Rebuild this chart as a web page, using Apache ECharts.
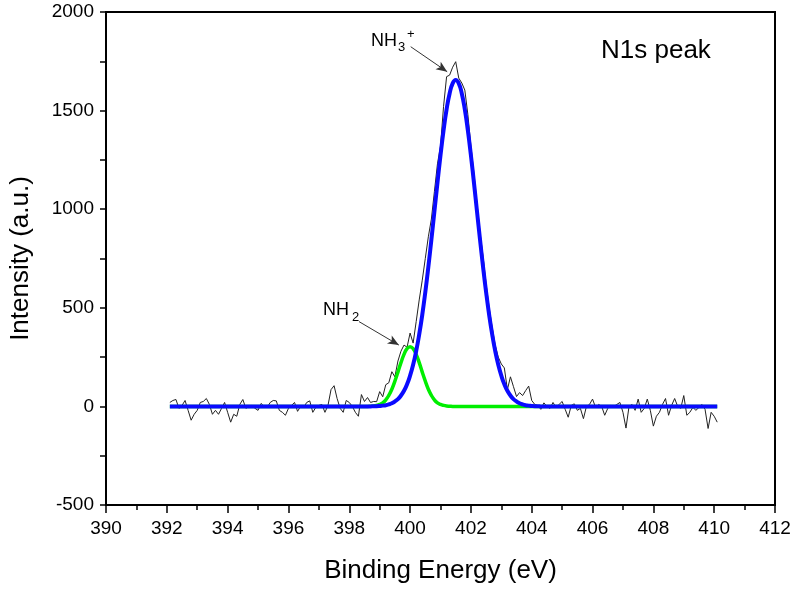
<!DOCTYPE html>
<html>
<head>
<meta charset="utf-8">
<script src="https://cdn.jsdelivr.net/npm/echarts@6/dist/echarts.min.js"></script>
<style>
html,body{margin:0;padding:0;background:#fff;}
#chart{width:797px;height:596px;}
</style>
</head>
<body>
<div id="chart"></div>
<script>
// Binding energy grid (eV)
const energy = [
392.1,392.2,392.3,392.4,392.5,392.6,392.7,392.8,392.9,393.0,
393.1,393.2,393.3,393.4,393.5,393.6,393.7,393.8,393.9,394.0,
394.1,394.2,394.3,394.4,394.5,394.6,394.7,394.8,394.9,395.0,
395.1,395.2,395.3,395.4,395.5,395.6,395.7,395.8,395.9,396.0,
396.1,396.2,396.3,396.4,396.5,396.6,396.7,396.8,396.9,397.0,
397.1,397.2,397.3,397.4,397.5,397.6,397.7,397.8,397.9,398.0,
398.1,398.2,398.3,398.4,398.5,398.6,398.7,398.8,398.9,399.0,
399.1,399.2,399.3,399.4,399.5,399.6,399.7,399.8,399.9,400.0,
400.1,400.2,400.3,400.4,400.5,400.6,400.7,400.8,400.9,401.0,
401.1,401.2,401.3,401.4,401.5,401.6,401.7,401.8,401.9,402.0,
402.1,402.2,402.3,402.4,402.5,402.6,402.7,402.8,402.9,403.0,
403.1,403.2,403.3,403.4,403.5,403.6,403.7,403.8,403.9,404.0,
404.1,404.2,404.3,404.4,404.5,404.6,404.7,404.8,404.9,405.0,
405.1,405.2,405.3,405.4,405.5,405.6,405.7,405.8,405.9,406.0,
406.1,406.2,406.3,406.4,406.5,406.6,406.7,406.8,406.9,407.0,
407.1,407.2,407.3,407.4,407.5,407.6,407.7,407.8,407.9,408.0,
408.1,408.2,408.3,408.4,408.5,408.6,408.7,408.8,408.9,409.0,
409.1,409.2,409.3,409.4,409.5,409.6,409.7,409.8,409.9,410.0,
410.1
];

// Measured N1s spectrum (a.u.)
const measured = [
20,30,35,-10,5,30,-20,-70,-40,-20,
20,25,40,10,-40,-20,-40,-10,20,-30,
-80,-40,-50,10,35,-10,0,5,-10,-20,
15,0,-5,20,30,28,-20,-30,-45,-10,
5,20,-25,0,-5,20,28,-30,-5,5,
10,-30,5,85,105,40,-10,-30,30,20,
0,-30,-50,60,25,45,20,25,24,75,
49,110,120,176,150,230,280,311,300,372,
321,430,540,640,750,860,950,1090,1230,1320,
1520,1672,1680,1720,1748,1665,1640,1604,1480,1320,
1180,1030,880,760,620,500,400,310,250,215,
195,85,150,100,50,70,55,80,103,30,
10,5,-15,18,0,-10,20,-5,10,25,
-15,-55,5,13,-20,-10,-62,0,10,37,
-5,10,0,-45,-10,5,0,10,20,-30,
-110,0,10,-20,37,-30,-10,37,-20,-100,
-50,-30,10,40,-45,5,40,0,-10,55,
-45,-30,-5,-20,-5,10,-15,-112,-30,-50,
-80
];

// NH2 component fit (green)
const fitNH2 = [
0,0,0,0,0,0,0,0,0,0,
0,0,0,0,0,0,0,0,0,0,
0,0,0,0,0,0,0,0,0,0,
0,0,0,0,0,0,0,0,0,0,
0,0,0,0,0,0,0,0,0,0,
0,0,0,0,0,0,0,0,0,0,
0,0,0,0,0,0,1,2,5,10,
18,33,56,87,128,174,222,264,293,303,
293,264,222,174,128,87,56,33,18,10,
5,2,1,0,0,0,0,0,0,0,
0,0,0,0,0,0,0,0,0,0,
0,0,0,0,0,0,0,0,0,0,
0,0,0,0,0,0,0,0,0,0,
0,0,0,0,0,0,0,0,0,0,
0,0,0,0,0,0,0,0,0,0,
0,0,0,0,0,0,0,0,0,0,
0,0,0,0,0,0,0,0,0,0,
0,0,0,0,0,0,0,0,0,0,
0
];

// NH3+ component fit (blue)
const fitNH3 = [
0,0,0,0,0,0,0,0,0,0,
0,0,0,0,0,0,0,0,0,0,
0,0,0,0,0,0,0,0,0,0,
0,0,0,0,0,0,0,0,0,0,
0,0,0,0,0,0,0,0,0,0,
0,0,0,0,0,0,0,0,0,0,
0,0,0,0,0,0,0,1,1,2,
4,6,10,16,25,37,55,79,112,156,
211,280,365,464,579,707,845,989,1134,1273,
1399,1506,1587,1638,1655,1638,1587,1506,1399,1273,
1134,989,845,707,579,464,365,280,211,156,
112,79,55,37,25,16,10,6,4,2,
1,1,0,0,0,0,0,0,0,0,
0,0,0,0,0,0,0,0,0,0,
0,0,0,0,0,0,0,0,0,0,
0,0,0,0,0,0,0,0,0,0,
0,0,0,0,0,0,0,0,0,0,
0,0,0,0,0,0,0,0,0,0,
0
];

// Annotation arrows [start, end] in data coordinates
const arrowNH3 = [[400.02, 1824], [401.22, 1697]];
const arrowNH2 = [[398.32, 430], [399.63, 311]];

const xTicks = {min: 390, max: 412, interval: 2};
const yTicks = {min: -500, max: 2000, interval: 500};

const pair = arr => energy.map((e, i) => [e, arr[i]]);
const FONT = '"Liberation Sans", Arial, sans-serif';

const chart = echarts.init(document.getElementById('chart'), null, {renderer: 'canvas'});
chart.setOption({
  animation: false,
  backgroundColor: '#fff',
  grid: {left: 105, right: 22, top: 12, bottom: 91, show: true, borderColor: '#000', borderWidth: 2, backgroundColor: 'transparent'},
  xAxis: {
    type: 'value', min: xTicks.min, max: xTicks.max, interval: xTicks.interval,
    name: 'Binding Energy (eV)', nameLocation: 'middle', nameGap: 53,
    nameTextStyle: {fontFamily: FONT, fontSize: 26, color: '#000'},
    axisLine: {show: true, onZero: false, lineStyle: {color: '#000', width: 2}},
    axisTick: {show: true, inside: false, length: 8, lineStyle: {color: '#000', width: 1.5}},
    minorTick: {show: true, splitNumber: 2, length: 5, lineStyle: {color: '#000', width: 1.5}},
    axisLabel: {fontFamily: FONT, fontSize: 19, color: '#000', margin: 14, formatter: v => String(v)},
    splitLine: {show: false}
  },
  yAxis: {
    type: 'value', min: yTicks.min, max: yTicks.max, interval: yTicks.interval,
    name: 'Intensity (a.u.)', nameLocation: 'middle', nameGap: 72,
    nameTextStyle: {fontFamily: FONT, fontSize: 26, color: '#000'},
    axisLine: {show: true, onZero: false, lineStyle: {color: '#000', width: 2}},
    axisTick: {show: true, inside: false, length: 6, lineStyle: {color: '#000', width: 1.5}},
    minorTick: {show: true, splitNumber: 2, length: 6, lineStyle: {color: '#000', width: 1.5}},
    axisLabel: {fontFamily: FONT, fontSize: 19, color: '#000', margin: 12, formatter: v => String(v)},
    splitLine: {show: false}
  },
  series: [
    {
      name: 'measured', type: 'line', data: pair(measured), showSymbol: false, z: 2,
      lineStyle: {color: '#222', width: 1}, itemStyle: {color: '#222'},
      markLine: {
        silent: true, symbol: ['none', 'arrow'], symbolSize: [7, 11], animation: false,
        label: {show: false},
        lineStyle: {color: '#333', width: 1, type: 'solid'},
        data: [
          [{coord: arrowNH3[0]}, {coord: arrowNH3[1]}],
          [{coord: arrowNH2[0]}, {coord: arrowNH2[1]}]
        ]
      }
    },
    {
      name: 'NH2', type: 'line', data: pair(fitNH2), showSymbol: false, smooth: true, z: 3,
      lineStyle: {color: '#00ee00', width: 3.5}, itemStyle: {color: '#00ee00'}
    },
    {
      name: 'NH3+', type: 'line', data: pair(fitNH3), showSymbol: false, smooth: true, z: 4,
      lineStyle: {color: '#0a0aff', width: 4}, itemStyle: {color: '#0a0aff'}
    }
  ],
  graphic: [
    {type: 'text', left: 601, top: 38, style: {text: 'N1s peak', fontFamily: FONT, fontSize: 26, fill: '#000'}},
    {type: 'text', left: 371, top: 32, style: {text: 'NH', fontFamily: FONT, fontSize: 18, fill: '#000'}},
    {type: 'text', left: 398, top: 41, style: {text: '3', fontFamily: FONT, fontSize: 13, fill: '#000'}},
    {type: 'text', left: 407, top: 28, style: {text: '+', fontFamily: FONT, fontSize: 13, fill: '#000'}},
    {type: 'text', left: 323, top: 301, style: {text: 'NH', fontFamily: FONT, fontSize: 18, fill: '#000'}},
    {type: 'text', left: 352, top: 311, style: {text: '2', fontFamily: FONT, fontSize: 13, fill: '#000'}}
  ]
});
</script>
</body>
</html>
